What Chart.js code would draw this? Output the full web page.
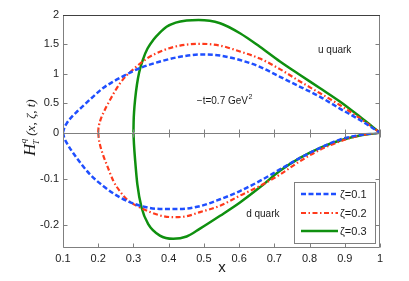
<!DOCTYPE html>
<html><head><meta charset="utf-8">
<script src="https://cdn.jsdelivr.net/npm/chart.js@4/dist/chart.umd.min.js"></script>
<style>html,body{margin:0;padding:0;background:#fff}#wrap{width:409px;height:281px}</style>
</head><body><div id="wrap"><canvas id="c" width="409" height="281"></canvas></div>
<script>
// ---- data ----
const zetaLabels = ['ζ=0.1', 'ζ=0.2', 'ζ=0.3'];
const xTickValues = [0.1,0.2,0.3,0.4,0.5,0.6,0.7,0.8,0.9,1];
const xTickLabels = ['0.1','0.2','0.3','0.4','0.5','0.6','0.7','0.8','0.9','1'];
const uTickValues = [0,0.5,1,1.5,2];
const uTickLabels = ['0','0.5','1','1.5','2'];
const dTickValues = [-0.2,-0.1];
const dTickLabels = ['-0.2','-0.1'];

// u quark, zeta = 0.1
const xU1 = [0.1,0.103,0.1105,0.125,0.14,0.158,0.185,0.214,0.24,0.271,0.3,0.338,0.385,0.432,0.494,0.546,0.6025,0.659,0.716,0.773,0.83,0.886,0.943,1.0];
const yU1 = [0,0.07,0.16,0.27,0.36,0.46,0.61,0.76,0.86,0.96,1.05,1.14,1.225,1.29,1.33,1.31,1.235,1.12,0.95,0.78,0.61,0.41,0.215,0];
// u quark, zeta = 0.2
const xU2 = [0.2,0.2005,0.202,0.205,0.209,0.215,0.223,0.233,0.246,0.262,0.28,0.3,0.338,0.385,0.432,0.494,0.546,0.6025,0.659,0.716,0.773,0.83,0.886,0.943,1.0];
const yU2 = [0,0.06,0.12,0.19,0.26,0.34,0.44,0.55,0.69,0.84,0.97,1.08,1.26,1.40,1.48,1.51,1.48,1.38,1.26,1.08,0.87,0.67,0.47,0.245,0];
// u quark, zeta = 0.3
const xU3 = [0.3,0.3005,0.302,0.305,0.31,0.316,0.328,0.34,0.356,0.375,0.394,0.42,0.451,0.485,0.546,0.6025,0.659,0.716,0.773,0.83,0.886,0.943,1.0];
const yU3 = [0,0.18,0.37,0.58,0.82,1.02,1.26,1.43,1.575,1.70,1.80,1.87,1.905,1.915,1.86,1.69,1.46,1.21,0.98,0.755,0.53,0.27,0];
// d quark, zeta = 0.1
const xD1 = [0.1,0.103,0.1105,0.139,0.177,0.214,0.262,0.319,0.375,0.432,0.489,0.546,0.6025,0.659,0.716,0.773,0.83,0.886,0.943,1.0];
const yD1 = [0,-0.01,-0.022,-0.055,-0.091,-0.116,-0.141,-0.159,-0.166,-0.166,-0.160,-0.145,-0.127,-0.105,-0.080,-0.055,-0.033,-0.015,-0.005,0];
// d quark, zeta = 0.2
const xD2 = [0.2,0.2015,0.205,0.213,0.224,0.243,0.262,0.281,0.319,0.375,0.413,0.45,0.489,0.546,0.6025,0.659,0.716,0.773,0.83,0.886,0.943,1.0];
const yD2 = [0,-0.012,-0.026,-0.047,-0.069,-0.105,-0.128,-0.145,-0.163,-0.18,-0.184,-0.182,-0.173,-0.159,-0.137,-0.116,-0.091,-0.062,-0.037,-0.019,-0.006,0];
// d quark, zeta = 0.3
const xD3 = [0.3,0.3015,0.305,0.311,0.323,0.342,0.375,0.413,0.451,0.489,0.546,0.6025,0.659,0.716,0.773,0.83,0.886,0.943,1.0];
const yD3 = [0,-0.025,-0.062,-0.112,-0.163,-0.199,-0.224,-0.231,-0.226,-0.209,-0.181,-0.152,-0.119,-0.083,-0.055,-0.033,-0.017,-0.006,0];

// ---- styles ----
const seriesStyle = [
  {color:'#1f4fff', dash:[5,2.5], width:2.5},
  {color:'#ff3a1c', dash:[5,2.5,1.5,2.5], width:2.2},
  {color:'#0f900f', dash:[], width:2.5}
];
const pts = (xa, ya) => xa.map((x, i) => ({x, y: ya[i]}));
const uSets = [[xU1,yU1],[xU2,yU2],[xU3,yU3]];
const dSets = [[xD1,yD1],[xD2,yD2],[xD3,yD3]];
const datasets = [];
for (let i = 0; i < 3; i++) {
  const s = seriesStyle[i];
  const common = {borderColor:s.color, borderDash:s.dash, borderWidth:s.width, pointRadius:0,
    fill:false, cubicInterpolationMode:'monotone', borderCapStyle:'butt', borderJoinStyle:'round'};
  datasets.push(Object.assign({label:zetaLabels[i]+' u', data:pts(...uSets[i]), yAxisID:'yu'}, common));
  datasets.push(Object.assign({label:zetaLabels[i]+' d', data:pts(...dSets[i]), yAxisID:'yd'}, common));
}

const FONT = '"Liberation Sans", Arial, sans-serif';
const AXIS = '#7f7f7f';

const deco = {
  id:'deco',
  afterDatasetsDraw(chart) {
    const {ctx, chartArea:a, scales} = chart;
    const xs = scales.x, yu = scales.yu, yd = scales.yd;
    const r = v => Math.round(v) + 0.5;
    ctx.save();
    ctx.lineWidth = 1;
    ctx.strokeStyle = AXIS;
    const L = r(a.left), R = r(a.right - 1), T = r(a.top), B = r(a.bottom - 1);
    const Z = r(yu.getPixelForValue(0));
    ctx.beginPath();
    ctx.moveTo(L, T); ctx.lineTo(L, B); ctx.lineTo(R, B); ctx.lineTo(R, T);
    ctx.moveTo(L, Z); ctx.lineTo(R, Z);
    xTickValues.forEach(v => {
      const px = r(xs.getPixelForValue(v));
      ctx.moveTo(px, B); ctx.lineTo(px, B - 4);
      ctx.moveTo(px, Z - 4); ctx.lineTo(px, Z + 4);
    });
    uTickValues.forEach(v => {
      const py = r(yu.getPixelForValue(v));
      ctx.moveTo(L, py); ctx.lineTo(L + 4, py);
      ctx.moveTo(R, py); ctx.lineTo(R - 4, py);
    });
    dTickValues.forEach(v => {
      const py = r(yd.getPixelForValue(v));
      ctx.moveTo(L, py); ctx.lineTo(L + 4, py);
      ctx.moveTo(R, py); ctx.lineTo(R - 4, py);
    });
    ctx.stroke();
    ctx.strokeStyle = '#404040';
    ctx.beginPath(); ctx.moveTo(L - 0.5, T); ctx.lineTo(R + 0.5, T); ctx.stroke();

    // annotations
    ctx.fillStyle = '#1a1a1a';
    ctx.textBaseline = 'middle';
    ctx.textAlign = 'left';
    ctx.font = '10px ' + FONT;
    ctx.fillText('u quark', xs.getPixelForValue(0.824), yu.getPixelForValue(1.4));
    ctx.fillText('d quark', xs.getPixelForValue(0.62), yd.getPixelForValue(-0.178));
    const tx = xs.getPixelForValue(0.48), ty = yu.getPixelForValue(0.53);
    const main = '\u2212t=0.7 GeV';
    ctx.fillText(main, tx, ty);
    const w = ctx.measureText(main).width;
    ctx.font = '7px ' + FONT;
    ctx.fillText('2', tx + w + 0.5, ty - 4);

    // legend
    const bx = 294.5, by = 182.5, bw = 81, bh = 61;
    ctx.fillStyle = '#fff';
    ctx.fillRect(bx, by, bw, bh);
    ctx.strokeStyle = AXIS;
    ctx.lineWidth = 1;
    ctx.strokeRect(bx, by, bw, bh);
    const rows = [194, 213, 231];
    for (let i = 0; i < 3; i++) {
      const s = seriesStyle[i];
      ctx.save();
      ctx.strokeStyle = s.color;
      ctx.lineWidth = s.width;
      ctx.setLineDash(s.dash);
      ctx.beginPath(); ctx.moveTo(301, rows[i]); ctx.lineTo(338, rows[i]); ctx.stroke();
      ctx.restore();
      ctx.fillStyle = '#1a1a1a';
      ctx.font = '11px ' + FONT;
      ctx.fillText(zetaLabels[i], 340, rows[i] + 0.5);
    }

    // y axis title  H_T^q (x, ζ, t)
    ctx.save();
    ctx.translate(30, 156);
    ctx.rotate(-Math.PI / 2);
    ctx.fillStyle = '#1a1a1a';
    ctx.textBaseline = 'alphabetic';
    ctx.textAlign = 'left';
    let x = 0;
    ctx.font = 'italic 17px "Liberation Serif", "DejaVu Serif", serif';
    ctx.fillText('H', x, 5); x += ctx.measureText('H').width;
    ctx.font = 'italic 9px "Liberation Serif", serif';
    ctx.fillText('q', x + 0.5, -4);
    ctx.fillText('T', x - 1, 9);
    x += 8;
    ctx.font = 'italic 13px "Liberation Serif", "DejaVu Serif", serif';
    ctx.fillText('(x, ζ, t)', x, 5);
    ctx.restore();

    // x axis title
    ctx.font = '15px ' + FONT;
    ctx.textAlign = 'center';
    ctx.textBaseline = 'middle';
    ctx.fillStyle = '#1a1a1a';
    ctx.fillText('x', (a.left + a.right) / 2 + 0.5, 267.5);
    ctx.restore();
  }
};

const tickFont = {family: FONT, size: 11};
new Chart(document.getElementById('c'), {
  type:'line',
  data:{datasets},
  options:{
    responsive:false,
    animation:false,
    events:[],
    layout:{padding:{left:0, right:29, top:15, bottom:0}},
    plugins:{legend:{display:false}, tooltip:{enabled:false}},
    scales:{
      x:{type:'linear', min:0.1, max:1, position:'bottom',
        grid:{display:false, drawTicks:false}, border:{display:false},
        afterBuildTicks:s => { s.ticks = xTickValues.map(v => ({value:v})); },
        ticks:{font:tickFont, color:'#222', padding:5, maxRotation:0, autoSkip:false,
          callback:(v, i) => xTickLabels[i]},
        afterFit:s => { s.height = 33.5; }
      },
      yu:{type:'linear', min:0, max:2, position:'left', stack:'v', stackWeight:117.7, weight:2,
        grid:{display:false, drawTicks:false}, border:{display:false},
        afterBuildTicks:s => { s.ticks = uTickValues.map(v => ({value:v})); },
        ticks:{font:tickFont, color:'#222', padding:4, autoSkip:false,
          callback:(v, i) => uTickLabels[i]},
        afterFit:s => { s.width = 63; }
      },
      yd:{type:'linear', min:-0.25, max:0, position:'left', stack:'v', stackWeight:114.8, weight:1,
        grid:{display:false, drawTicks:false}, border:{display:false},
        afterBuildTicks:s => { s.ticks = dTickValues.map(v => ({value:v})); },
        ticks:{font:tickFont, color:'#222', padding:4, autoSkip:false,
          callback:(v, i) => dTickLabels[i]},
        afterFit:s => { s.width = 63; }
      }
    }
  },
  plugins:[deco]
});
</script>
</body></html>
